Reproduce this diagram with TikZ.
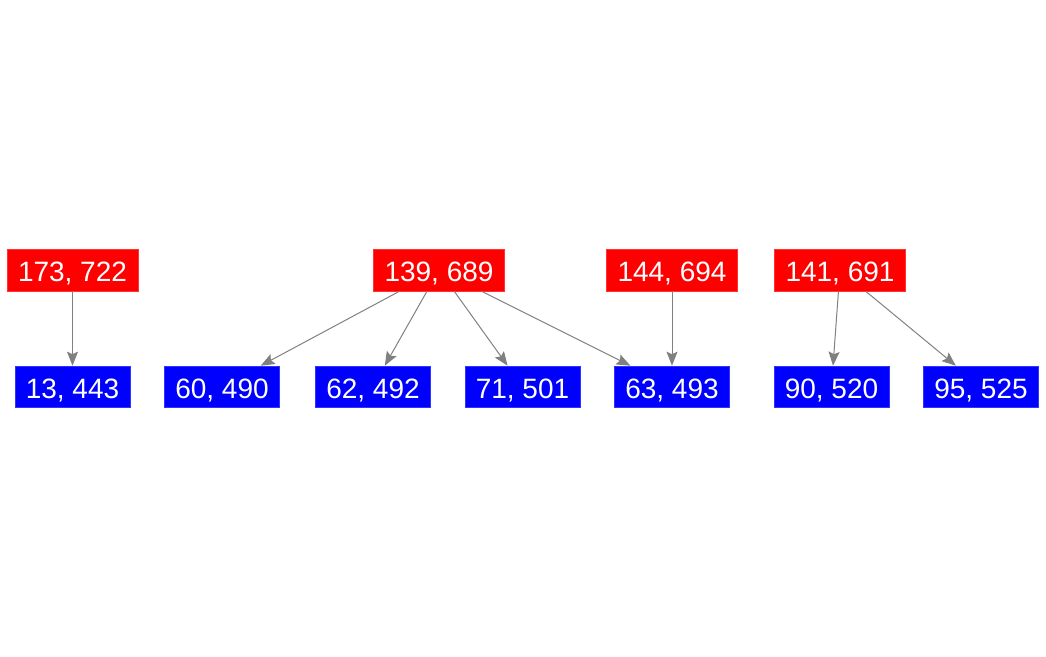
\documentclass[tikz,border=0pt]{standalone}
\usepackage{fontspec}
\setmainfont{Liberation Sans}
\usetikzlibrary{arrows.meta}
\begin{document}
\begin{tikzpicture}[x=1pt,y=-1pt,
  every node/.style={font=\fontsize{28}{32}\selectfont, text=white, inner sep=0pt, anchor=center, text height=23pt, text depth=0pt},
  rednode/.style={fill=red, draw=red!80!white, line width=0.6pt, minimum width=131pt, minimum height=42pt},
  bluenode/.style={fill=blue, draw=blue!80!white, line width=0.6pt, minimum width=115pt, minimum height=41pt},
  edge/.style={draw=gray, line width=1pt, -{Stealth[length=14pt,width=11pt,inset=2.5pt]}}]
\useasboundingbox (0,0) rectangle (1046,656);
\node[rednode] (r1) at (72.5,270) {173, 722};
\node[rednode] (r2) at (439,270) {139, 689};
\node[rednode] (r3) at (672,270) {144, 694};
\node[rednode] (r4) at (840,270) {141, 691};
\node[bluenode] (b1) at (72.5,386.5) {13, 443};
\node[bluenode] (b2) at (222,386.5) {60, 490};
\node[bluenode] (b3) at (373,386.5) {62, 492};
\node[bluenode] (b4) at (522.5,386.5) {71, 501};
\node[bluenode] (b5) at (672,386.5) {63, 493};
\node[bluenode] (b6) at (831.5,386.5) {90, 520};
\node[bluenode] (b7) at (981,386.5) {95, 525};
\draw[edge] (r1) -- (b1);
\draw[edge] (r2) -- (b2);
\draw[edge] (r2) -- (b3);
\draw[edge] (r2) -- (b4);
\draw[edge] (r2) -- (b5);
\draw[edge] (r3) -- (b5);
\draw[edge] (r4) -- (b6);
\draw[edge] (r4) -- (b7);
\end{tikzpicture}
\end{document}
